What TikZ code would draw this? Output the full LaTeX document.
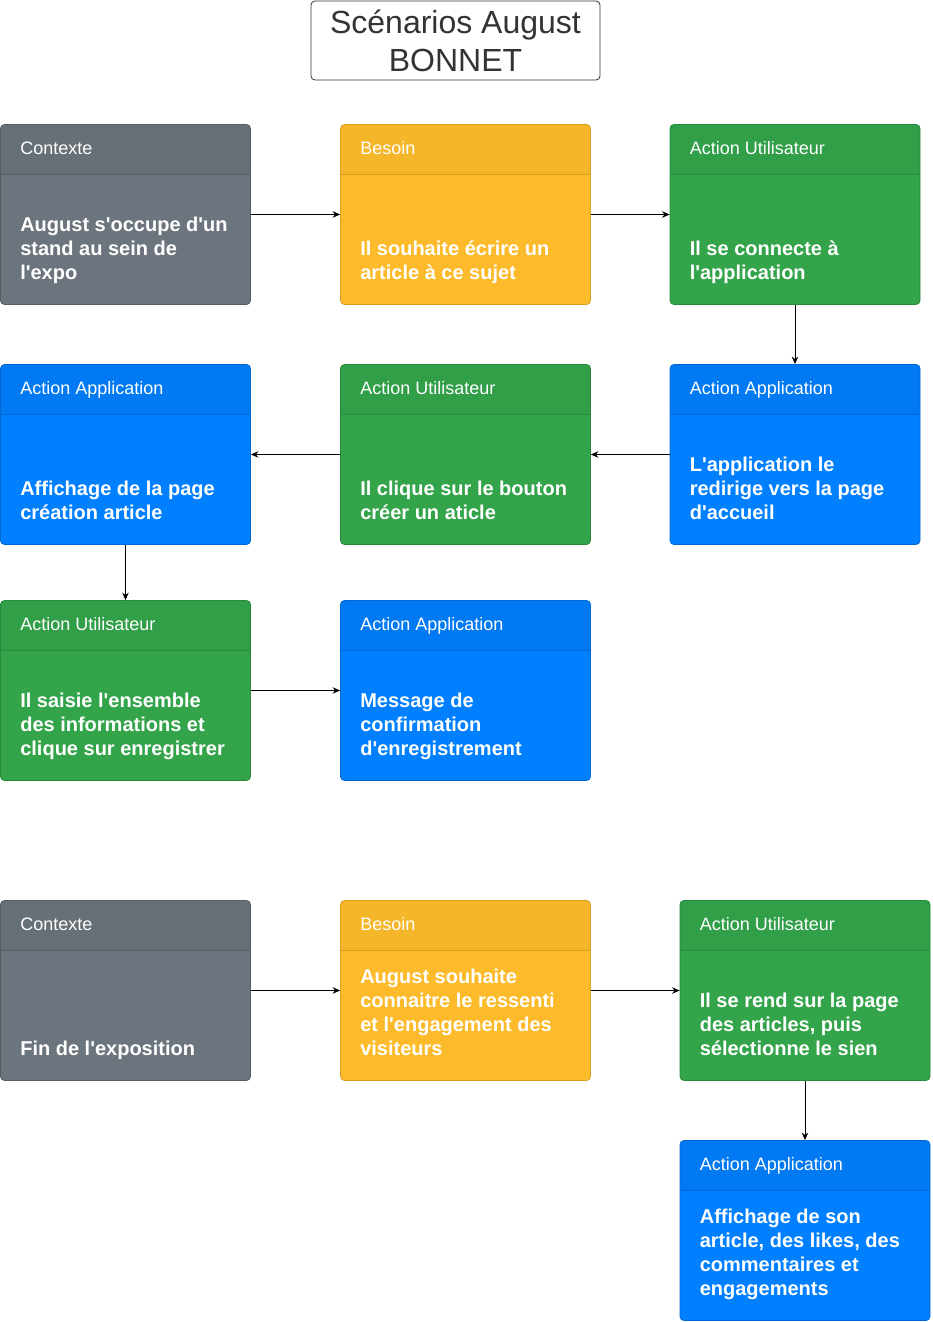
\documentclass[tikz,border=0pt]{standalone}
\usepackage{fontspec}
\setmainfont{Liberation Sans}[Ligatures=TeXOff]
\usetikzlibrary{arrows.meta,calc}
\definecolor{grayB}{RGB}{108,117,125}
\definecolor{grayH}{RGB}{103,111,119}
\definecolor{grayD}{RGB}{86,94,101}
\definecolor{yellowB}{RGB}{253,187,43}
\definecolor{yellowH}{RGB}{245,182,42}
\definecolor{yellowD}{RGB}{215,160,35}
\definecolor{greenB}{RGB}{51,164,74}
\definecolor{greenH}{RGB}{49,158,72}
\definecolor{greenD}{RGB}{40,136,60}
\definecolor{blueB}{RGB}{0,128,255}
\definecolor{blueH}{RGB}{0,121,242}
\definecolor{blueD}{RGB}{0,104,210}
\definecolor{titleC}{RGB}{51,51,51}
\tikzset{
  card/.style={rectangle, rounded corners=4pt, minimum width=250pt, minimum height=180pt,
    inner sep=0pt, line width=0.8pt, fill=#1B, draw=#1D,
    path picture={\fill[#1H] (path picture bounding box.north west) rectangle ([yshift=-50pt]path picture bounding box.north east);
      \draw[#1D, line width=0.7pt] ([yshift=-50pt]path picture bounding box.north west) -- ([yshift=-50pt]path picture bounding box.north east);}},
  hdr/.style={anchor=base west, inner sep=0pt, text=white, font=\fontsize{18}{21}\selectfont},
  bodytext/.style={anchor=south west, inner sep=0pt, text depth=0pt, align=left, text=white,
    font=\fontsize{20}{24}\selectfont\bfseries},
  arr/.style={draw=black, line width=0.9pt, -{Stealth[length=7.5pt,width=6.5pt]}},
}
\newcommand\mycard[6]{%
  \node[card=#2] (#1) at (#3,#4) {};
  \node[hdr] (#1-h) at ([xshift=20pt,yshift=-30.5pt]#1.north west) {#5};
  \node[bodytext] (#1-b) at ([xshift=20pt,yshift=25pt]#1.south west) {#6};
}
\begin{document}
\begin{tikzpicture}[x=1pt,y=-1pt]
\useasboundingbox[fill=white] (0,0) rectangle (932,1322);
\node[draw=titleC, fill=white, rounded corners=4pt, line width=0.8pt, minimum width=289pt, minimum height=79pt,
  align=center, text=titleC, inner sep=0pt, font=\fontsize{32}{38}\selectfont] (title) at (455.5,40.5)
  {Scénarios August\\BONNET};

\mycard{c1}{gray}{125.5}{214.5}{Contexte}{August s'occupe d'un\\stand au sein de\\l'expo}
\mycard{c2}{yellow}{465.5}{214.5}{Besoin}{Il souhaite écrire un\\article à ce sujet}
\mycard{c3}{green}{795}{214.5}{Action Utilisateur}{Il se connecte à\\l'application}
\mycard{c4}{blue}{125.5}{454.5}{Action Application}{Affichage de la page\\création article}
\mycard{c5}{green}{465.5}{454.5}{Action Utilisateur}{Il clique sur le bouton\\créer un aticle}
\mycard{c6}{blue}{795}{454.5}{Action Application}{L'application le\\redirige vers la page\\d'accueil}
\mycard{c7}{green}{125.5}{690.5}{Action Utilisateur}{Il saisie l'ensemble\\des informations et\\clique sur enregistrer}
\mycard{c8}{blue}{465.5}{690.5}{Action Application}{Message de\\confirmation\\d'enregistrement}
\mycard{d1}{gray}{125.5}{990.5}{Contexte}{Fin de l'exposition}
\mycard{d2}{yellow}{465.5}{990.5}{Besoin}{August souhaite\\connaitre le ressenti\\et l'engagement des\\visiteurs}
\mycard{d3}{green}{805}{990.5}{Action Utilisateur}{Il se rend sur la page\\des articles, puis\\sélectionne le sien}
\mycard{d4}{blue}{805}{1230.5}{Action Application}{Affichage de son\\article, des likes, des\\commentaires et\\engagements}

\draw[arr] (c1) -- (c2);
\draw[arr] (c2) -- (c3);
\draw[arr] (c3) -- (c6);
\draw[arr] (c6) -- (c5);
\draw[arr] (c5) -- (c4);
\draw[arr] (c4) -- (c7);
\draw[arr] (c7) -- (c8);
\draw[arr] (d1) -- (d2);
\draw[arr] (d2) -- (d3);
\draw[arr] (d3) -- (d4);
\end{tikzpicture}
\end{document}
